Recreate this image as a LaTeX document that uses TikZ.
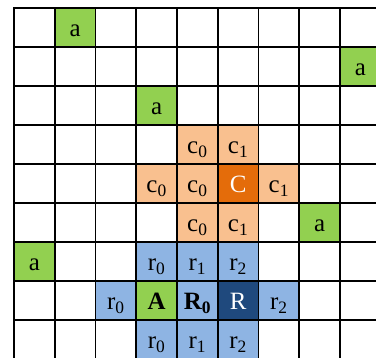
\documentclass[tikz,border=0pt]{standalone}
\usepackage{fontspec}
\setmainfont{Liberation Serif}
\definecolor{leafgreen}{HTML}{92D050}
\definecolor{peach}{HTML}{F9C08F}
\definecolor{ember}{HTML}{E46C0A}
\definecolor{skyblue}{HTML}{8EB4E3}
\definecolor{navy}{HTML}{1F497D}
\tikzset{
  cell/.style={minimum width=40.75bp, minimum height=39.03bp, inner sep=0pt, outer sep=0pt,
    text height=24.4bp, text depth=5.6bp},
  gridline/.style={line width=1.6bp, line cap=rect}
}
\begin{document}
\begin{tikzpicture}[x=40.75bp, y=-39.03bp, every node/.style={font=\fontsize{25}{27}\selectfont}]
\clip (-14bp,7.7bp) rectangle (362bp,-350.3bp);
\node[cell, fill=leafgreen] (a1) at (1.5,0.5) {a};
\node[cell, fill=leafgreen] (a2) at (8.5,1.5) {a};
\node[cell, fill=leafgreen] (a3) at (3.5,2.5) {a};
\node[cell, fill=leafgreen] (a4) at (7.5,5.5) {a};
\node[cell, fill=leafgreen] (a5) at (0.5,6.5) {a};
\node[cell, fill=peach] (c0n) at (4.5,3.5) {c\textsubscript{0}};
\node[cell, fill=peach] (c1n) at (5.5,3.5) {c\textsubscript{1}};
\node[cell, fill=peach] (c0w) at (3.5,4.5) {c\textsubscript{0}};
\node[cell, fill=peach] (c0m) at (4.5,4.5) {c\textsubscript{0}};
\node[cell, fill=ember, text=white] (C) at (5.5,4.5) {C};
\node[cell, fill=peach] (c1e) at (6.5,4.5) {c\textsubscript{1}};
\node[cell, fill=peach] (c0s) at (4.5,5.5) {c\textsubscript{0}};
\node[cell, fill=peach] (c1s) at (5.5,5.5) {c\textsubscript{1}};
\node[cell, fill=skyblue] (r0n) at (3.5,6.5) {r\textsubscript{0}};
\node[cell, fill=skyblue] (r1n) at (4.5,6.5) {r\textsubscript{1}};
\node[cell, fill=skyblue] (r2n) at (5.5,6.5) {r\textsubscript{2}};
\node[cell, fill=skyblue] (r0w) at (2.5,7.5) {r\textsubscript{0}};
\node[cell, fill=leafgreen] (A) at (3.5,7.5) {\textbf{A}};
\node[cell, fill=skyblue] (R0) at (4.5,7.5) {\textbf{R\textsubscript{0}}};
\node[cell, fill=navy, text=white] (R) at (5.5,7.5) {R};
\node[cell, fill=skyblue] (r2e) at (6.5,7.5) {r\textsubscript{2}};
\node[cell, fill=skyblue] (r0s) at (3.5,8.5) {r\textsubscript{0}};
\node[cell, fill=skyblue] (r1s) at (4.5,8.5) {r\textsubscript{1}};
\node[cell, fill=skyblue] (r2s) at (5.5,8.5) {r\textsubscript{2}};
\foreach \i in {0,...,9}
  \draw[gridline] (\i,0) -- (\i,9.5);
\foreach \j in {0,...,9}
  \draw[gridline] (0,\j) -- (9.5,\j);
\end{tikzpicture}
\end{document}
